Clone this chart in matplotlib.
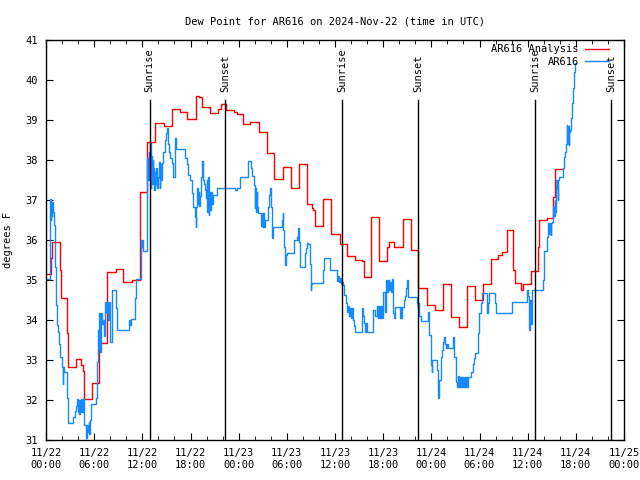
import matplotlib
matplotlib.use("Agg")
import matplotlib.pyplot as plt
import matplotlib.dates as mdates
import pandas as pd

# hours since 2024-11-22 00:00 UTC, dew point in F
start = pd.Timestamp("2024-11-22 00:00")

analysis_h = [0.00, 0.66, 0.78, 1.74, 1.83, 2.65, 2.80, 3.70, 4.40, 4.57, 4.73, 5.67,
              6.66, 7.64, 8.69, 9.63, 10.67, 11.71, 12.62, 13.55, 14.70, 15.66, 16.63,
              17.53, 18.65, 19.00, 19.43, 20.47, 21.46, 21.80, 22.42, 23.45, 23.75,
              24.58, 25.41, 26.53, 27.49, 28.44, 29.48, 30.48, 31.51, 32.47, 33.10,
              33.30, 33.51, 34.54, 35.50, 36.62, 37.53, 38.49, 39.32, 39.61, 40.48,
              41.48, 42.44, 42.72, 43.35, 44.43, 45.43, 46.37, 47.50, 48.45, 49.41,
              50.41, 51.44, 52.48, 53.44, 54.40, 55.39, 56.34, 56.80, 57.48, 58.23,
              58.42, 59.13, 59.38, 60.41, 61.32, 61.45, 62.37, 63.19, 63.40, 64.36]
analysis_f = [35.15, 35.55, 35.94, 35.25, 34.55, 33.67, 32.82, 33.02, 32.88, 32.73, 32.02, 32.42,
              33.42, 35.20, 35.27, 34.95, 35.01, 37.20, 38.45, 38.92, 38.86, 39.28, 39.20,
              39.03, 39.60, 39.57, 39.33, 39.17, 39.28, 39.40, 39.24, 39.19, 39.14,
              38.89, 38.94, 38.69, 38.17, 37.52, 37.82, 37.29, 37.90, 36.90, 36.80,
              36.75, 36.35, 37.02, 36.15, 35.90, 35.60, 35.50, 35.47, 35.08, 36.57,
              35.47, 35.82, 35.94, 35.82, 36.52, 35.75, 34.79, 34.38, 34.25, 34.89,
              34.07, 33.82, 34.86, 34.50, 34.89, 35.52, 35.62, 35.71, 36.25, 35.25,
              34.93, 34.75, 34.89, 35.22, 35.83, 36.50, 36.54, 37.08, 37.78, 37.78]

obs_h = [0.00, 0.50, 0.59, 0.66, 0.72, 0.78, 0.87, 1.00, 1.12, 1.21, 1.33, 1.49, 1.62, 1.74,
         2.03, 2.09, 2.15, 2.24, 2.65, 2.78, 3.40, 3.57, 3.77, 3.90, 3.99, 4.07, 4.15, 4.24,
         4.32, 4.42, 4.52, 4.65, 4.77, 4.95, 5.14, 5.23, 5.32, 5.39, 5.48, 5.57, 6.19, 6.32,
         6.48, 6.56, 6.64, 6.70, 6.81, 6.98, 7.14, 7.22, 7.31, 7.47, 7.64, 7.76, 7.85, 7.93,
         8.18, 8.68, 8.81, 10.34, 10.46, 10.63, 11.05, 11.17, 11.80, 11.87, 11.96, 12.08,
         12.54, 12.62, 12.71, 12.79, 12.87, 12.95, 13.04, 13.12, 13.20, 13.29, 13.37, 13.45,
         13.58, 13.66, 13.74, 13.83, 13.99, 14.08, 14.16, 14.24, 14.32, 14.41, 14.61, 14.82,
         14.95, 15.11, 15.23, 15.36, 15.48, 15.66, 15.76, 15.86, 16.07, 16.19, 17.31, 17.53,
         17.73, 17.94, 18.15, 18.35, 18.56, 18.65, 18.72, 18.85, 18.93, 19.02, 19.10, 19.18,
         19.31, 19.47, 19.59, 19.72, 19.84, 19.93, 20.02, 20.09, 20.18, 20.27, 20.34, 20.43,
         20.52, 20.64, 20.84, 21.26, 23.54, 23.75, 24.16, 25.20, 25.53, 25.70, 25.91, 26.00,
         26.07, 26.16, 26.24, 26.32, 26.44, 26.66, 26.78, 26.90, 26.99, 27.07, 27.15, 27.28,
         27.61, 27.69, 27.81, 27.94, 28.03, 28.11, 28.19, 28.31, 29.36, 29.48, 29.56, 29.65,
         29.77, 29.89, 29.98, 30.93, 31.23, 31.35, 31.43, 31.55, 31.64, 32.26, 32.39, 32.47,
         32.67, 32.88, 33.01, 33.07, 33.17, 34.54, 34.67, 35.38, 36.21, 36.28, 36.41, 36.50,
         36.62, 36.75, 36.83, 37.03, 37.16, 37.37, 37.49, 37.66, 37.74, 37.87, 37.99, 38.12,
         38.28, 38.40, 38.49, 39.32, 39.45, 39.61, 39.73, 39.86, 39.95, 40.77, 40.98, 41.19,
         41.39, 41.48, 41.60, 41.73, 41.85, 42.01, 42.23, 42.35, 42.47, 42.60, 42.72, 42.85,
         42.97, 43.06, 43.19, 43.26, 43.35, 43.47, 44.09, 44.18, 44.26, 44.34, 44.59, 44.72,
         44.84, 44.93, 45.05, 45.13, 46.17, 46.30, 46.37, 46.50, 46.67, 47.54, 47.62, 47.74,
         47.92, 48.04, 48.12, 48.74, 48.87, 48.99, 49.16, 49.29, 49.41, 49.49, 49.61, 49.70,
         49.82, 49.95, 50.11, 50.73, 50.86, 51.03, 51.19, 51.32, 51.44, 51.57, 51.69, 51.82,
         51.94, 52.07, 52.19, 52.32, 52.44, 52.56, 52.94, 53.15, 53.31, 53.47, 53.85, 53.97,
         54.15, 54.35, 54.89, 55.02, 55.18, 55.93, 56.05, 58.01, 59.95, 60.08, 60.16, 60.29,
         60.37, 60.50, 61.91, 62.07, 62.44, 62.57, 62.65, 62.78, 62.87, 62.94, 63.07, 63.19,
         63.28, 63.36, 63.44, 63.49, 63.61, 63.74, 63.81, 63.90, 64.44, 64.56, 64.65, 64.77,
         64.86, 64.93, 65.02, 65.11, 65.15, 65.27, 65.40, 65.48, 65.61, 65.77, 65.89, 66.02]
obs_f = [35.02, 37.02, 36.50, 36.90, 36.60, 36.95, 36.70, 36.37, 35.32, 34.37, 33.87, 33.71, 33.40, 33.07,
         32.83, 32.40, 32.83, 32.69, 32.04, 31.42, 31.58, 31.72, 31.85, 32.02, 31.70, 32.00, 31.65, 32.00,
         31.70, 32.02, 31.70, 32.02, 31.37, 31.04, 31.37, 31.20, 31.45, 31.15, 31.50, 31.90, 32.04, 32.96,
         33.75, 33.30, 34.17, 33.20, 34.17, 33.90, 34.00, 33.60, 34.44, 34.20, 34.44, 34.00, 34.44, 33.46,
         34.75, 34.29, 33.75, 34.00, 33.87, 34.02, 34.54, 35.02, 36.00, 35.83, 36.00, 35.72,
         37.62, 38.04, 37.50, 38.20, 37.60, 38.42, 37.30, 38.10, 37.40, 38.00, 37.80, 37.25,
         37.70, 37.40, 37.80, 37.30, 37.58, 37.95, 37.30, 37.90, 37.50, 37.92, 38.21, 38.50,
         38.67, 38.79, 38.40, 38.21, 38.05, 37.92, 37.80, 37.58, 38.54, 38.27, 38.04, 37.90,
         37.62, 37.50, 37.17, 36.83, 36.58, 36.33, 36.83, 37.29, 36.90, 37.20, 36.85, 37.10,
         37.58, 37.97, 37.50, 37.40, 37.25, 37.04, 37.50, 36.70, 37.58, 36.63, 37.20, 36.75,
         37.20, 36.90, 37.12, 37.29, 37.25, 37.30, 37.58, 37.97, 37.79, 37.60, 37.37, 36.80,
         37.30, 36.71, 37.20, 36.83, 36.67, 36.67, 36.35, 36.67, 36.33, 36.67, 36.33, 36.50,
         36.50, 36.83, 37.12, 37.29, 36.83, 36.50, 36.04, 36.33, 36.50, 36.67, 36.25, 35.83,
         35.38, 35.63, 35.68, 36.00, 36.08, 36.00, 36.29, 35.96, 35.33, 35.67, 35.80, 35.93,
         35.90, 35.40, 34.75, 34.90, 34.93, 35.25, 35.54, 35.25, 35.10, 34.97, 35.10, 34.95,
         35.05, 34.90, 34.96, 34.88, 34.63, 34.42, 34.21, 34.35, 34.10, 34.30, 34.05, 34.30,
         34.00, 33.85, 33.71, 34.29, 34.10, 33.92, 33.71, 33.92, 33.71, 34.25, 34.10, 34.35,
         34.05, 34.35, 34.05, 34.35, 34.05, 34.71, 34.20, 35.00, 34.70, 35.00, 34.75, 34.95,
         34.70, 35.02, 34.62, 34.17, 34.05, 34.33, 34.05, 34.33, 34.05, 34.33, 34.50, 34.60,
         34.79, 35.00, 34.70, 34.57, 34.42, 34.30, 34.42, 34.10, 33.97, 34.08, 34.21, 33.63,
         32.88, 32.71, 33.00, 32.75, 32.04, 32.50, 33.08, 33.25, 33.30, 33.46, 33.58, 33.40,
         33.29, 33.40, 33.29, 33.58, 33.08, 32.46, 32.33, 32.60, 32.33, 32.58, 32.33, 32.58,
         32.33, 32.58, 32.33, 32.58, 32.33, 32.58, 32.71, 32.90, 33.05, 33.17, 33.67, 34.17,
         34.42, 34.68, 34.17, 34.42, 34.68, 34.42, 34.17, 34.44, 34.75, 34.60, 33.75, 34.50,
         33.90, 34.75, 35.00, 35.72, 36.08, 36.42, 36.15, 36.42, 36.12, 36.42, 36.45, 36.83,
         36.60, 37.00, 36.70, 37.50, 37.30, 37.00, 37.50, 37.58, 37.79, 38.08, 38.20, 38.39,
         38.87, 38.40, 38.85, 38.37, 38.70, 38.75, 39.04, 39.42, 39.79, 40.21, 40.42, 40.42]

sun_times = ["2024-11-22 12:55", "2024-11-22 22:19", "2024-11-23 12:54",
             "2024-11-23 22:24", "2024-11-24 12:58", "2024-11-24 22:22"]
sun_labels = ["Sunrise", "Sunset", "Sunrise", "Sunset", "Sunrise", "Sunset"]

plt.rcParams['font.family'] = ['DejaVu Sans Mono']
fs = 7.5

fig = plt.figure(figsize=(6.4, 4.8), dpi=100)
ax = fig.add_axes([46 / 640, 40 / 480, 578 / 640, 400 / 480])

t_an = start + pd.to_timedelta(analysis_h, unit='h')
t_ob = start + pd.to_timedelta(obs_h, unit='h')
ax.plot(t_an, analysis_f, drawstyle='steps-post', color='#ff0000', lw=1.0, label='AR616 Analysis')
ax.plot(t_ob, obs_f, drawstyle='steps-post', color='#1589ff', lw=1.0, label='AR616')

for ts, lab in zip(sun_times, sun_labels):
    t = pd.Timestamp(ts)
    ax.plot([t, t], [31, 39.5], color='black', lw=1.0, zorder=5)
    ax.text(t, 39.7, lab, rotation=90, ha='center', va='bottom', fontsize=fs)

ax.set_xlim(start, start + pd.Timedelta(hours=72))
ax.set_ylim(31, 41)
ax.set_yticks(range(31, 42))
ax.xaxis.set_major_locator(mdates.HourLocator(byhour=[0, 6, 12, 18]))
ax.xaxis.set_minor_locator(mdates.HourLocator(byhour=range(0, 24, 2)))
ax.xaxis.set_major_formatter(mdates.DateFormatter('%m/%d\n%H:%M'))
ax.tick_params(which='both', direction='in', top=True, right=True, labelsize=fs)
ax.tick_params(which='major', length=5, pad=6)
ax.tick_params(which='minor', length=3)
for s in ax.spines.values():
    s.set_linewidth(1.0)

ax.set_title('Dew Point for AR616 on 2024-Nov-22 (time in UTC)', fontsize=fs, pad=11)
ax.set_ylabel('degrees F', fontsize=fs, labelpad=9)

ax.legend(loc='upper right', bbox_to_anchor=(0.985, 1.005), frameon=False, markerfirst=False,
          fontsize=fs, handlelength=2.3, handletextpad=0.6, labelspacing=0.25, borderpad=0.1)

fig.savefig('out.png', dpi=100)
